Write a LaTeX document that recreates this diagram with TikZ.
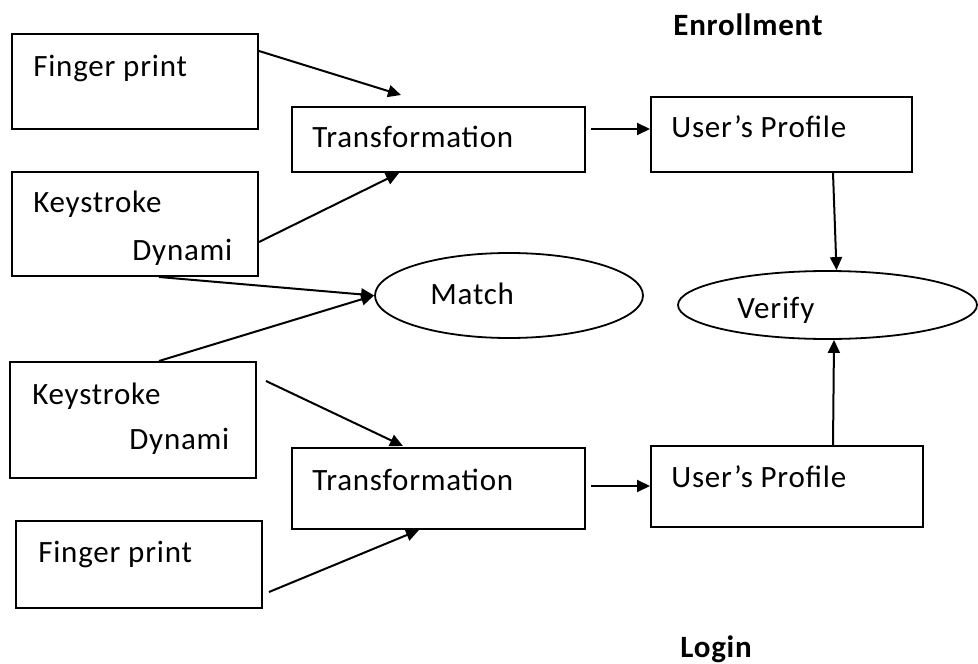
\documentclass[tikz,border=0pt]{standalone}
\usepackage{fontspec}
\setmainfont[LetterSpace=2.5]{Carlito}
\usetikzlibrary{shapes.geometric,arrows.meta,calc}

\begin{document}
\begin{tikzpicture}[x=0.5pt,y=-0.5pt,
                    box/.style={draw,line width=1pt,rectangle,inner sep=0pt},
                    oval/.style={draw,line width=0.9pt,ellipse,inner sep=0pt},
                    lbl/.style={anchor=base west,inner sep=0pt,font=\fontsize{15.5}{18}\selectfont},
                    ttl/.style={anchor=base west,inner sep=0pt,font=\fontsize{15.5}{18}\selectfont\bfseries},
                    arr/.style={line width=1pt,-{Triangle[length=6.5pt,width=6pt]}}]
                    \useasboundingbox (0,0) rectangle (978,663);
                    \node[box,minimum width=123pt,minimum height=47.5pt] (fpA) at (135,81.5) {};
                    \node[box,minimum width=123pt,minimum height=52pt] (ksA) at (135,224) {};
                    \node[box,minimum width=146.5pt,minimum height=32.5pt] (trA) at (438.5,139.5) {};
                    \node[box,minimum width=130.5pt,minimum height=37.5pt] (upA) at (781.5,134.5) {};
                    \node[oval,minimum width=134pt,minimum height=42.5pt] (match) at (509,295.5) {};
                    \node[oval,minimum width=149.5pt,minimum height=34pt] (verify) at (827.5,305) {};
                    \node[box,minimum width=123pt,minimum height=58pt] (ksB) at (133,420) {};
                    \node[box,minimum width=146.5pt,minimum height=40.5pt] (trB) at (438.5,488.5) {};
                    \node[box,minimum width=123pt,minimum height=43.5pt] (fpB) at (139,564.5) {};
                    \node[box,minimum width=136pt,minimum height=40.5pt] (upB) at (787,486.5) {};
                    \node[ttl] (enroll) at (673,36) {Enrollment};
                    \node[ttl] (login) at (680,657) {Login};
                    \node[lbl] (fpAtxt) at (33,77) {Finger print};
                    \node[lbl] (ksAtxt) at (33,213) {Keystroke};
                    \node[lbl] (ksAdyn) at (132,260) {Dynami};
                    \node[lbl] (trAtxt) at (312,148) {Transformation};
                    \node[lbl] (upAtxt) at (671,138) {User’s Profile};
                    \node[lbl] (matchtxt) at (430,304) {Match};
                    \node[lbl] (verifytxt) at (737,318) {Verify};
                    \node[lbl] (ksBtxt) at (32,404) {Keystroke};
                    \node[lbl] (ksBdyn) at (129,449) {Dynami};
                    \node[lbl] (trBtxt) at (312,490) {Transformation};
                    \node[lbl] (fpBtxt) at (38,562) {Finger print};
                    \node[lbl] (upBtxt) at (671,487) {User’s Profile};
                    \draw[arr] ($(fpA.north east)+(0,18)$) -- ($(trA.north west)+(110,-11)$);
                    \draw[arr] ($(ksA.north east)+(0,71)$) -- ($(trA.south west)+(108,0)$);
                    \draw[arr] ($(trA.north east)+(5,23)$) -- ($(upA.north west)+(0,33)$);
                    \draw[arr] ($(upA.south west)+(183,0)$) -- ($(verify.north)+(9,0)$);
                    \draw[arr] ($(ksA.south west)+(148,0)$) -- (match.west);
                    \draw[arr] ($(ksB.north west)+(150,0)$) -- (match.west);
                    \draw[arr] ($(ksB.north east)+(9,20)$) -- ($(trB.north west)+(112,-1)$);
                    \draw[arr] ($(fpB.north east)+(6,72)$) -- ($(trB.south west)+(128,0)$);
                    \draw[arr] ($(trB.north east)+(5,39)$) -- ($(upB.north west)+(0,41)$);
                    \draw[arr] ($(upB.north west)+(183,0)$) -- ($(verify.south)+(6.5,0)$);
\end{tikzpicture}
\end{document}
